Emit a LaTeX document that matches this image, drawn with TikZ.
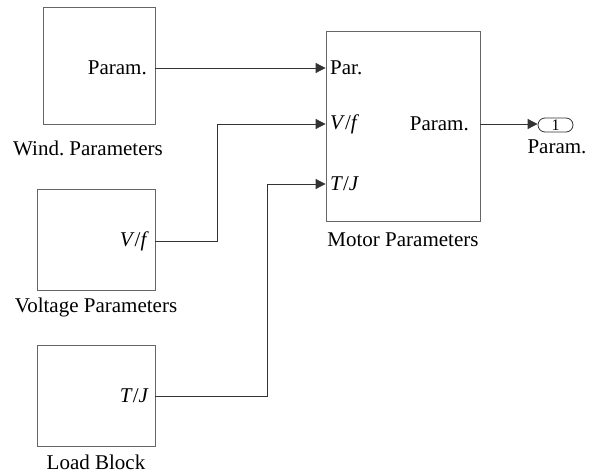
\documentclass[tikz,border=0pt]{standalone}
\usepackage{fontspec}
\setmainfont{Liberation Serif}
\frenchspacing
\usetikzlibrary{calc}
\usetikzlibrary{positioning}
\usetikzlibrary{arrows.meta}

\begin{document}
\begin{tikzpicture}[x=1pt, y=-1pt, >={Triangle[length=10pt, width=10pt]}, draw=black!70, font=\fontsize{21}{24}\selectfont]
			\tikzstyle{block}=[draw=black!60, rectangle, fill=none, inner sep=0pt, line width=0.8pt]
			\tikzstyle{port}=[inner sep=0pt, anchor=east]
			\tikzstyle{inport}=[inner sep=0pt, anchor=west]
			\tikzstyle{wire}=[->, draw=black!80, line width=0.8pt]
			\useasboundingbox (0,0) rectangle (594,473);

			\node[block, minimum width=112pt, minimum height=117pt] (wind) at (99,65.5) {};
			\node[block, minimum width=118pt, minimum height=101pt] (volt) at (96,239.5) {};
			\node[block, minimum width=118pt, minimum height=101pt] (load) at (96,395.5) {};
			\node[block, minimum width=154pt, minimum height=190pt] (motor) at (403,126) {};
			\node[draw=black!80, line width=0.8pt, rounded corners=7pt, minimum width=35pt, minimum height=14pt, inner sep=0pt, font=\fontsize{16}{16}\selectfont] (out) at (555.5,125) {1};

			% port texts
			\node[port] (windp) at (147,68) {Param.};
			\node[port] (voltp) at (149,241) {\textit{V}/\textit{f}};
			\node[port] (loadp) at (149,396) {\textit{T}/\textit{J}};
			\node[inport] (mpar) at (330,68) {Par.};
			\node[inport] (mvf) at (330,124) {\textit{V}/\textit{f}};
			\node[inport] (mtj) at (330,184) {\textit{T}/\textit{J}};
			\node[port] (mout) at (469,124) {Param.};

			% block names
			\node (windn) at (88,148) {Wind. Parameters};
			\node (voltn) at (96,307) {Voltage Parameters};
			\node (loadn) at (96,462) {Load Block};
			\node (motorn) at (403,240) {Motor Parameters};
			\node (outn) at (557,147) {Param.};

			\coordinate (vbend) at (217,0);
			\coordinate (lbend) at (267,0);

			\draw[wire] (wind.east |- windp) -- (motor.west |- mpar);
			\draw[wire] (volt.east |- voltp) -- (vbend |- voltp) -- (vbend |- mvf) -- (motor.west |- mvf);
			\draw[wire] (load.east |- loadp) -- (lbend |- loadp) -- (lbend |- mtj) -- (motor.west |- mtj);
			\draw[wire] (motor.east |- mout) -- (out.west |- mout);
		\end{tikzpicture}
\end{document}
